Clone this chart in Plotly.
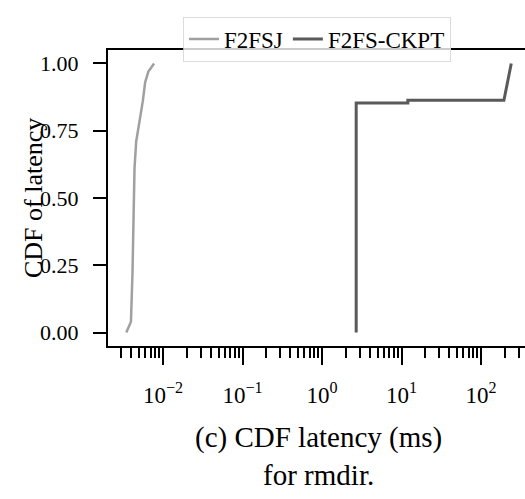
import plotly.graph_objects as go

# ---- data ----
f2fsj_latency_ms = [0.00345, 0.00395, 0.00413, 0.00425, 0.00438, 0.0046, 0.00506, 0.00557, 0.00596, 0.00654, 0.00772]
f2fsj_cdf = [0.0, 0.04, 0.22, 0.47, 0.61, 0.71, 0.78, 0.86, 0.93, 0.97, 1.0]

ckpt_latency_ms = [2.69, 2.69, 12.0, 12.0, 194.0, 240.0]
ckpt_cdf = [0.0, 0.853, 0.853, 0.863, 0.863, 1.0]

series_names = ["F2FSJ", "F2FS-CKPT"]
x_tick_vals = [0.01, 0.1, 1, 10, 100]
x_tick_text = ["10<sup>−2</sup>", "10<sup>−1</sup>", "10<sup>0</sup>", "10<sup>1</sup>", "10<sup>2</sup>"]
x_minor_vals = [m * 10.0 ** e for e in range(-3, 3) for m in range(2, 10)]
y_tick_vals = [0.0, 0.25, 0.5, 0.75, 1.0]
y_tick_text = ["0.00", "0.25", "0.50", "0.75", "1.00"]

FONT = "Liberation Serif, serif"

fig = go.Figure()
fig.add_trace(go.Scatter(x=f2fsj_latency_ms, y=f2fsj_cdf, mode="lines", name=series_names[0],
                         line=dict(color="#a0a0a0", width=2.5)))
fig.add_trace(go.Scatter(x=ckpt_latency_ms, y=ckpt_cdf, mode="lines", name=series_names[1],
                         line=dict(color="#5a5a5a", width=3)))

L, T, W, H = 108, 49.5, 525, 499
B = H - 346.5
plot_w = W - L
plot_h = 346.5 - T

def px_to_paper_x(px):
    return (px - L) / plot_w

def px_to_paper_y(py):
    return (346.5 - py) / plot_h

fig.update_layout(
    width=W, height=H,
    margin=dict(l=L, r=0, t=T, b=B, pad=0),
    paper_bgcolor="white", plot_bgcolor="white",
    font=dict(family=FONT, size=22, color="black"),
    showlegend=True,
    legend=dict(orientation="h", x=px_to_paper_x(317), xanchor="center",
                y=px_to_paper_y(16), yanchor="top",
                bgcolor="rgba(255,255,255,0.8)", bordercolor="rgba(210,210,210,0.8)", borderwidth=1,
                font=dict(family=FONT, size=23, color="black"),
                itemwidth=30, tracegroupgap=0),
    xaxis=dict(type="log", range=[-2.692, 2.553],
               tickmode="array", tickvals=x_tick_vals, ticktext=x_tick_text,
               ticks="outside", ticklen=17, tickwidth=2, tickcolor="black",
               ticklabelstandoff=10,
               showline=True, linecolor="black", linewidth=2, mirror=True,
               showgrid=False, zeroline=False,
               tickfont=dict(family=FONT, size=23, color="black"),
               minor=dict(tickmode="array", tickvals=x_minor_vals, ticks="outside",
                          ticklen=10, tickwidth=1.5, tickcolor="black", showgrid=False)),
    yaxis=dict(range=[-0.05, 1.05],
               tickmode="array", tickvals=y_tick_vals, ticktext=y_tick_text,
               ticks="outside", ticklen=13, tickwidth=2, tickcolor="black",
               ticklabelstandoff=10,
               showline=True, linecolor="black", linewidth=2, mirror=False,
               showgrid=False, zeroline=False,
               tickfont=dict(family=FONT, size=22, color="black")),
    annotations=[
        dict(text="CDF of latency", xref="paper", yref="paper",
             x=px_to_paper_x(33), y=px_to_paper_y(198), xanchor="center", yanchor="middle",
             textangle=-90, showarrow=False, font=dict(family=FONT, size=26, color="black")),
        dict(text="(c) CDF latency (ms)<br>for rmdir.", xref="paper", yref="paper",
             x=px_to_paper_x(318), y=px_to_paper_y(457), xanchor="center", yanchor="middle",
             showarrow=False, font=dict(family=FONT, size=29, color="black")),
    ],
)

fig.write_html("out.html", config={"displayModeBar": False},
               post_script="document.body.style.margin='0';document.body.style.overflow='hidden';")
